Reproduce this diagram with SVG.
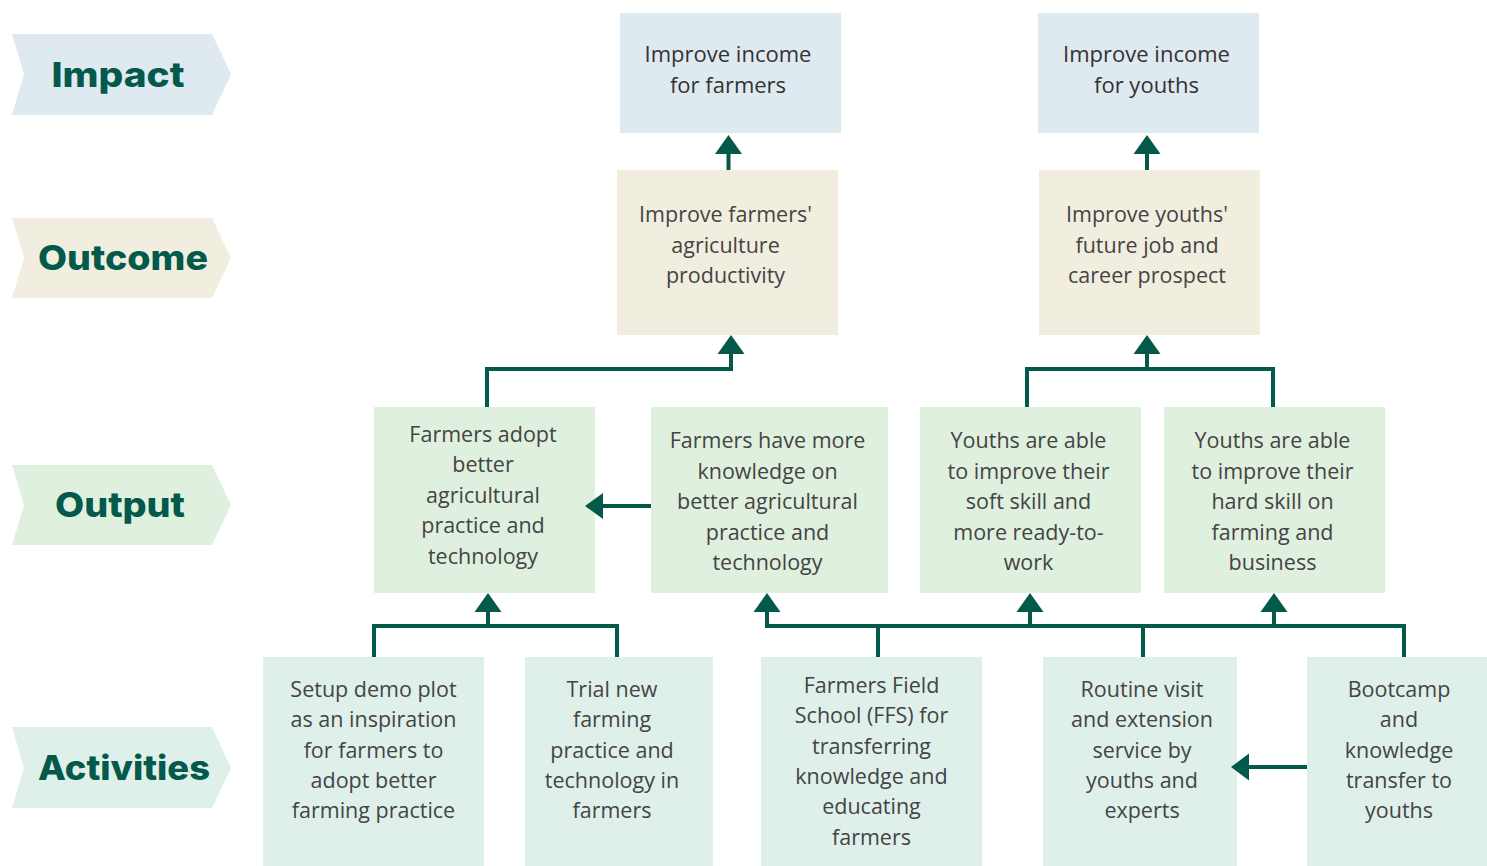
<svg xmlns="http://www.w3.org/2000/svg" width="1487" height="866" viewBox="0 0 1487 866">
<defs>
<style>
.lbl{font-family:Inter,"Liberation Sans",sans-serif;font-weight:800;font-size:34px;fill:#03594a;text-anchor:middle}
.t{font-family:"Open Sans","Liberation Sans",sans-serif;font-weight:400;font-size:21.5px;fill:#444;text-anchor:middle}
.ti{font-family:"Open Sans","Liberation Sans",sans-serif;font-weight:500;font-size:22px;fill:#333;text-anchor:middle}
.imp{fill:#dfe9f0}.out{fill:#f1eee0}.opt{fill:#e0f0df}.act{fill:#dff0eb}
.c{fill:none;stroke:#03594a;stroke-width:4}
.h{fill:#03594a}
</style>
</defs>
<rect width="1487" height="866" fill="#fff"/>
<g id="label-impact"><polygon class="imp" points="12,34 212,34 231,74 212,115 12,115 24,74"/><text class="lbl" x="118" y="87" textLength="133" lengthAdjust="spacingAndGlyphs">Impact</text></g>
<g id="label-outcome"><polygon class="out" points="12,218 212,218 231,258 212,298 12,298 24,258"/><text class="lbl" x="123" y="270" textLength="170" lengthAdjust="spacingAndGlyphs">Outcome</text></g>
<g id="label-output"><polygon class="opt" points="12,465 212,465 231,505 212,545 12,545 24,505"/><text class="lbl" x="120" y="517" textLength="130" lengthAdjust="spacingAndGlyphs">Output</text></g>
<g id="label-activities"><polygon class="act" points="12,727 212,727 231,768 212,808 12,808 24,768"/><text class="lbl" x="124" y="780" textLength="172" lengthAdjust="spacingAndGlyphs">Activities</text></g>

<g id="impact-farmers"><rect class="imp" x="620" y="13" width="221" height="120"/><text class="ti" x="728" y="62">Improve income</text><text class="ti" x="728" y="93">for farmers</text></g>
<g id="impact-youths"><rect class="imp" x="1038" y="13" width="221" height="120"/><text class="ti" x="1146.5" y="62">Improve income</text><text class="ti" x="1146.5" y="93">for youths</text></g>

<g id="outcome-farmers"><rect class="out" x="617" y="170" width="221" height="165"/><text class="t" x="725.5" y="222">Improve farmers'</text><text class="t" x="725.5" y="253">agriculture</text><text class="t" x="725.5" y="283">productivity</text></g>
<g id="outcome-youths"><rect class="out" x="1039" y="170" width="221" height="165"/><text class="t" x="1147" y="222">Improve youths'</text><text class="t" x="1147" y="253">future job and</text><text class="t" x="1147" y="283">career prospect</text></g>

<g id="output-1"><rect class="opt" x="374" y="407" width="221" height="186"/><text class="t" x="483" y="442">Farmers adopt</text><text class="t" x="483" y="472">better</text><text class="t" x="483" y="503">agricultural</text><text class="t" x="483" y="533">practice and</text><text class="t" x="483" y="564">technology</text></g>
<g id="output-2"><rect class="opt" x="651" y="407" width="237" height="186"/><text class="t" x="767.5" y="448">Farmers have more</text><text class="t" x="767.5" y="479">knowledge on</text><text class="t" x="767.5" y="509">better agricultural</text><text class="t" x="767.5" y="540">practice and</text><text class="t" x="767.5" y="570">technology</text></g>
<g id="output-3"><rect class="opt" x="920" y="407" width="221" height="186"/><text class="t" x="1028.5" y="448">Youths are able</text><text class="t" x="1028.5" y="479">to improve their</text><text class="t" x="1028.5" y="509">soft skill and</text><text class="t" x="1028.5" y="540">more ready-to-</text><text class="t" x="1028.5" y="570">work</text></g>
<g id="output-4"><rect class="opt" x="1164" y="407" width="221" height="186"/><text class="t" x="1272.5" y="448">Youths are able</text><text class="t" x="1272.5" y="479">to improve their</text><text class="t" x="1272.5" y="509">hard skill on</text><text class="t" x="1272.5" y="540">farming and</text><text class="t" x="1272.5" y="570">business</text></g>

<g id="activity-1"><rect class="act" x="263" y="657" width="221" height="209"/><text class="t" x="373.5" y="697">Setup demo plot</text><text class="t" x="373.5" y="727">as an inspiration</text><text class="t" x="373.5" y="758">for farmers to</text><text class="t" x="373.5" y="788">adopt better</text><text class="t" x="373.5" y="818">farming practice</text></g>
<g id="activity-2"><rect class="act" x="525" y="657" width="188" height="209"/><text class="t" x="612" y="697">Trial new</text><text class="t" x="612" y="727">farming</text><text class="t" x="612" y="758">practice and</text><text class="t" x="612" y="788">technology in</text><text class="t" x="612" y="818">farmers</text></g>
<g id="activity-3"><rect class="act" x="761" y="657" width="221" height="209"/><text class="t" x="871.5" y="693">Farmers Field</text><text class="t" x="871.5" y="723">School (FFS) for</text><text class="t" x="871.5" y="754">transferring</text><text class="t" x="871.5" y="784">knowledge and</text><text class="t" x="871.5" y="814">educating</text><text class="t" x="871.5" y="845">farmers</text></g>
<g id="activity-4"><rect class="act" x="1043" y="657" width="194" height="209"/><text class="t" x="1142" y="697">Routine visit</text><text class="t" x="1142" y="727">and extension</text><text class="t" x="1142" y="758">service by</text><text class="t" x="1142" y="788">youths and</text><text class="t" x="1142" y="818">experts</text></g>
<g id="activity-5"><rect class="act" x="1307" y="657" width="180" height="209"/><text class="t" x="1399" y="697">Bootcamp</text><text class="t" x="1399" y="727">and</text><text class="t" x="1399" y="758">knowledge</text><text class="t" x="1399" y="788">transfer to</text><text class="t" x="1399" y="818">youths</text></g>

<g id="connectors">
<path class="c" d="M728.5,170 V152"/><polygon class="h" points="728.5,135 715,154 742,154"/>
<path class="c" d="M1147,170 V152"/><polygon class="h" points="1147,135 1133.5,154 1160.5,154"/>
<path class="c" d="M487,407 V369 H731 V352"/><polygon class="h" points="731,335 717.5,354 744.5,354"/>
<path class="c" d="M1027,407 V369 H1273 V407 M1147,369 V352"/><polygon class="h" points="1147,335 1133.5,354 1160.5,354"/>
<path class="c" d="M651,506 H601"/><polygon class="h" points="585,506 603,493 603,519"/>
<path class="c" d="M374,657 V626 H617 V657 M488,626 V610"/><polygon class="h" points="488,593 474.5,612 501.5,612"/>
<path class="c" d="M878,657 V626 M767,610 V626 H1404 V657 M1143,626 V657 M1030,626 V610 M1274,626 V610"/>
<polygon class="h" points="767,593 753.5,612 780.5,612"/>
<polygon class="h" points="1030,593 1016.5,612 1043.5,612"/>
<polygon class="h" points="1274,593 1260.5,612 1287.5,612"/>
<path class="c" d="M1307,767 H1247"/><polygon class="h" points="1231,767 1249,753.5 1249,780.5"/>
</g>
</svg>
